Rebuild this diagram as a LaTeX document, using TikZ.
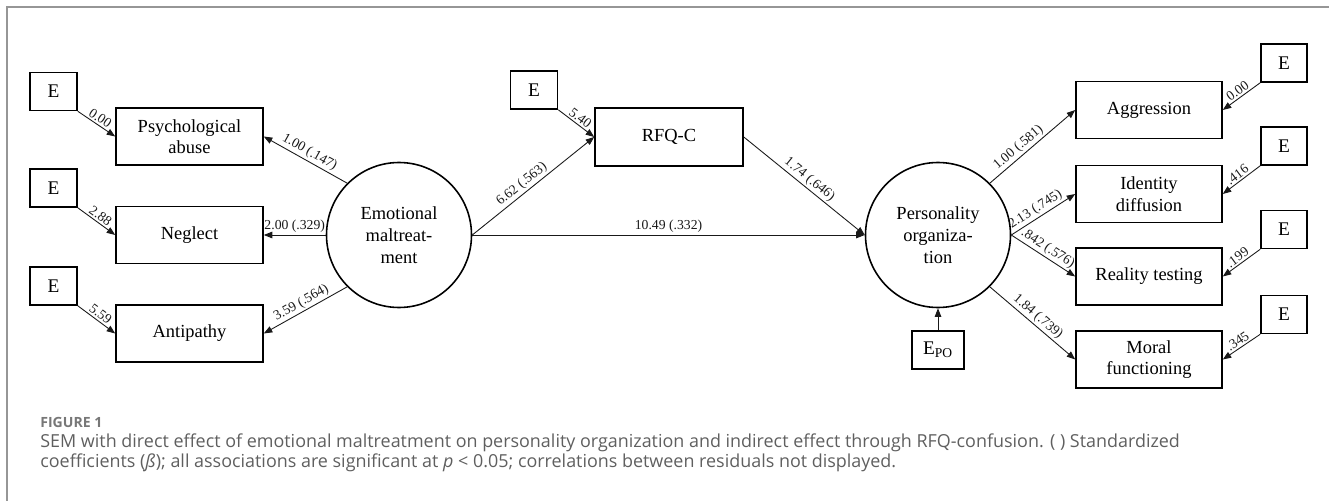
\documentclass[tikz,border=0pt]{standalone}
\usepackage{fontspec}
\setmainfont{Liberation Serif}
\newfontfamily\capfont{Open Sans}
\usetikzlibrary{arrows.meta, positioning}
\definecolor{framegray}{RGB}{150,150,150}
\definecolor{captext}{RGB}{95,95,95}
\definecolor{dark}{RGB}{25,25,25}
\tikzset{
    obs/.style={rectangle, draw=black, line width=0.9pt, align=center, font=\fontsize{10.5}{12.2}\selectfont, minimum width=2.94cm, minimum height=1.14cm, inner sep=2pt},
    err/.style={rectangle, draw=black, line width=0.9pt, font=\fontsize{11}{12}\selectfont, minimum width=0.94cm, minimum height=0.76cm, inner sep=1pt},
    latent/.style={circle, draw=black, line width=0.9pt, align=center, font=\fontsize{10.5}{12.4}\selectfont, minimum size=2.9cm, inner sep=0pt},
    arr/.style={-{Triangle[length=1.7mm, width=1.3mm]}, line width=0.5pt, dark},
    coef/.style={font=\fontsize{7.8}{9}\selectfont, sloped, above, inner sep=1pt}
}

\begin{document}
\begin{tikzpicture}
    \useasboundingbox (0,0) rectangle (26.58,-10.02);
    \draw[framegray, line width=1.1pt] (0.14,-10.02) -- (0.14,-0.14) -- (26.58,-0.14);

    % latent variables
    \node[latent] (em) at (7.98,-4.70) {Emotional\\maltreat-\\ment};
    \node[latent] (po) at (18.76,-4.70) {Personality\\organiza-\\tion};

    % indicators of emotional maltreatment
    \node[obs] (psych) at (3.79,-2.73) {Psychological\\abuse};
    \node[obs] (negl) at (3.79,-4.70) {Neglect};
    \node[obs] (anti) at (3.79,-6.67) {Antipathy};
    \node[err] (e1) at (1.07,-1.83) {E};
    \node[err] (e2) at (1.07,-3.76) {E};
    \node[err] (e3) at (1.07,-5.72) {E};

    % mediator
    \node[obs, minimum width=2.96cm, minimum height=1.16cm] (rfq) at (13.38,-2.74) {RFQ-C};
    \node[err] (erfq) at (10.68,-1.80) {E};

    % indicators of personality organization
    \node[obs, minimum width=2.92cm] (aggr) at (22.98,-2.20) {Aggression};
    \node[obs, minimum width=2.92cm] (ident) at (22.98,-3.88) {Identity\\diffusion};
    \node[obs, minimum width=2.92cm] (real) at (22.98,-5.53) {Reality testing};
    \node[obs, minimum width=2.92cm] (moral) at (22.98,-7.19) {Moral\\functioning};
    \node[err, minimum width=0.92cm] (e4) at (25.68,-1.26) {E};
    \node[err, minimum width=0.92cm] (e5) at (25.68,-2.92) {E};
    \node[err, minimum width=0.92cm] (e6) at (25.68,-4.59) {E};
    \node[err, minimum width=0.92cm] (e7) at (25.68,-6.29) {E};
    \node[err, minimum width=1.04cm] (epo) at (18.76,-7.00) {E\textsubscript{PO}};

    \draw[arr] (e1.south east) -- node[coef] {0.00} (psych.west);
    \draw[arr] (e2.south east) -- node[coef] {2.88} (negl.west);
    \draw[arr] (e3.south east) -- node[coef] {5.59} (anti.west);
    \draw[arr] (em.135) -- node[coef] {1.00 (.147)} (psych.east);
    \draw[arr] (em.west) -- node[coef] {2.00 (.329)} (negl.east);
    \draw[arr] (em.225) -- node[coef] {3.59 (.564)} (anti.east);

    \draw[arr] (erfq.south east) -- node[coef] {5.40} (rfq.west);
    \draw[arr] (em.east) -- node[coef, pos=0.45] {6.62 (.563)} (rfq.west);
    \draw[arr] (rfq.east) -- node[coef] {1.74 (.646)} (po.west);
    \draw[arr] (em.east) -- node[coef] {10.49 (.332)} (po.west);

    \draw[arr] (po.45) -- node[coef, pos=0.4] {1.00 (.581)} (aggr.west);
    \draw[arr] (po.east) -- node[coef, pos=0.45] {2.13 (.745)} (ident.west);
    \draw[arr] (po.east) -- node[coef] {.842 (.576)} (real.west);
    \draw[arr] (po.-45) -- node[coef] {1.84 (.739)} (moral.west);
    \draw[arr] (epo) -- (po);

    \draw[arr] (e4.south west) -- node[coef] {0.00} (aggr.east);
    \draw[arr] (e5.south west) -- node[coef] {.416} (ident.east);
    \draw[arr] (e6.south west) -- node[coef] {.199} (real.east);
    \draw[arr] (e7.south west) -- node[coef] {.345} (moral.east);

    % caption
    \node[anchor=base west, inner sep=0, text=captext!85, font=\capfont\bfseries\fontsize{8}{9}\selectfont] (fig) at (0.80,-8.54) {FIGURE 1};
    \node[anchor=base west, inner sep=0, text=captext, font=\capfont\fontsize{10.2}{11}\selectfont] (cap1) at (0.80,-8.94) {SEM with direct effect of emotional maltreatment on personality organization and indirect effect through RFQ-confusion. ( ) Standardized};
    \node[anchor=base west, inner sep=0, text=captext, font=\capfont\fontsize{10.2}{11}\selectfont] (cap2) at (0.80,-9.34) {coefficients (\textit{ß}); all associations are significant at \textit{p} < 0.05; correlations between residuals not displayed.};
\end{tikzpicture}
\end{document}
